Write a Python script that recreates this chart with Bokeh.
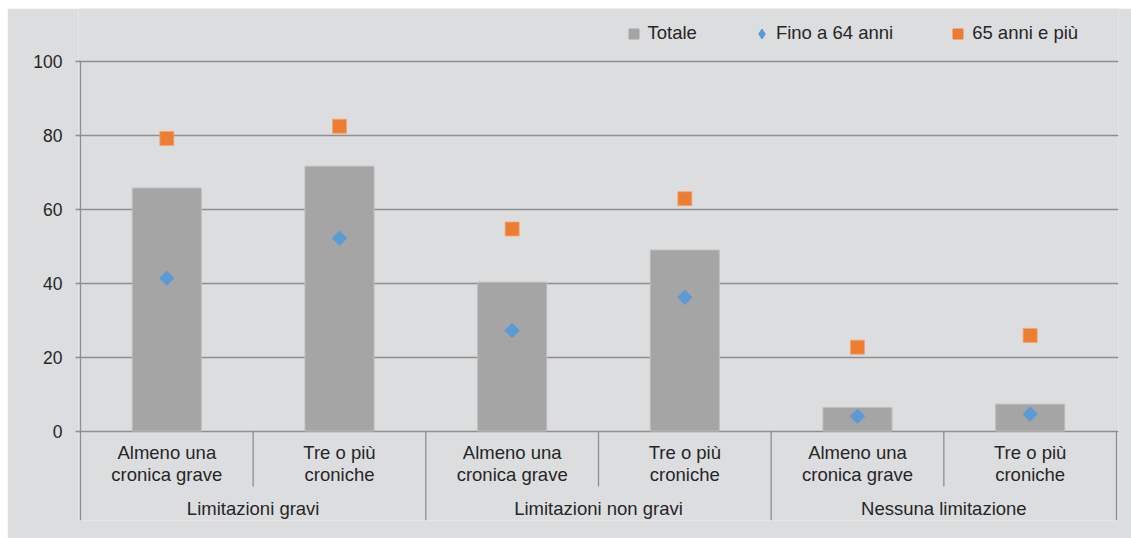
import numpy as np
from bokeh.plotting import figure
from bokeh.models import (FactorRange, Range1d, ColumnDataSource, FixedTicker,
                          Legend, LegendItem, Spacer)
from bokeh.layouts import row, column
from bokeh.core.properties import value
from bokeh.embed import file_html
from bokeh.resources import INLINE

# ---------------- data ----------------
groups = ["Limitazioni gravi", "Limitazioni non gravi", "Nessuna limitazione"]
subcats = ["Almeno una\ncronica grave", "Tre o più\ncroniche"]
totale = [65.8, 71.7, 40.3, 49.0, 6.4, 7.3]
fino_64 = [41.4, 52.2, 27.2, 36.2, 4.0, 4.6]
over_65 = [79.2, 82.5, 54.7, 62.9, 22.7, 25.9]
y_ticks = [0, 20, 40, 60, 80, 100]
series_names = ["Totale", "Fino a 64 anni", "65 anni e più"]

# ---------------- style ----------------
BG = "#DCDDDF"
BAR = "#A5A5A5"
BLUE = "#5B9BD5"
ORANGE = "#ED7D31"
GRID = "#8F8F8F"
TXT = "#262626"
FONT = "Liberation Sans"
FS = "18.5px"
FS_TICK = "17.5px"

OFF_X, OFF_Y = 7, 8            # white strip left / top as in the original
W, H = 1131 - OFF_X, 538 - OFF_Y
FRAME_LEFT, FRAME_W = 78, 1040  # page pixels
FRAME_TOP, FRAME_BOTTOM = 8, 520
ZERO_PX, PX = 430.6, 3.6948     # page row of y=0, pixels per unit
PAD = 2 / 172.67                # x padding (category units) each side

def ypx(page_y):
    # convert a page pixel row to data units of the y range
    return (ZERO_PX - page_y) / PX

Y_START, Y_END = ypx(FRAME_BOTTOM), ypx(FRAME_TOP)

factors = [(g, s) for g in groups for s in subcats]

p = figure(width=W, height=H, output_backend="svg", toolbar_location=None,
           x_range=FactorRange(*factors, range_padding=PAD,
                               range_padding_units="absolute", group_padding=0,
                               factor_padding=0, subgroup_padding=0),
           y_range=Range1d(Y_START, Y_END),
           x_axis_location=None,
           min_border_left=FRAME_LEFT - OFF_X,
           min_border_right=W - (FRAME_LEFT - OFF_X) - FRAME_W,
           min_border_top=FRAME_TOP - OFF_Y,
           min_border_bottom=H - (FRAME_BOTTOM - OFF_Y))
p.background_fill_color = BG
p.border_fill_color = BG
p.outline_line_color = None
p.xgrid.visible = False

# y axis (line drawn separately so that it stops at 100)
p.yaxis.ticker = FixedTicker(ticks=y_ticks)
p.yaxis.axis_line_color = None
p.yaxis.major_tick_line_color = GRID
p.yaxis.major_tick_line_width = 1.3
p.yaxis.major_tick_out = 3
p.yaxis.major_tick_in = 2
p.yaxis.minor_tick_line_color = None
p.yaxis.major_label_standoff = 13
p.yaxis.major_label_text_font = FONT
p.yaxis.major_label_text_font_size = FS_TICK
p.yaxis.major_label_text_color = TXT
p.ygrid.ticker = FixedTicker(ticks=y_ticks)
p.ygrid.grid_line_color = GRID
p.ygrid.grid_line_width = 1.3

src = ColumnDataSource(dict(x=factors, tot=totale, f64=fino_64, o65=over_65))

bars = p.vbar(x="x", top="tot", width=0.4, source=src, fill_color=BAR,
              line_color="#BDBDBD", line_width=1)
sq = p.scatter(x="x", y="o65", source=src, marker="square", size=14,
               fill_color=ORANGE, line_color="#F2A375", line_width=0.8)
dm = p.scatter(x="x", y="f64", source=src, marker="square", angle=np.pi / 4,
               size=10.5, fill_color=BLUE, line_color=BLUE, line_width=0.5)
# legend proxies (drawn outside the visible range)
tot_proxy = p.scatter(x=[factors[0]], y=[-1000], marker="square",
                      fill_color=BAR, line_color=BAR)
dm_proxy = p.scatter(x=[factors[0]], y=[-1000], marker="diamond",
                     fill_color=BLUE, line_color=BLUE)
sq_proxy = p.scatter(x=[factors[0]], y=[-1000], marker="square",
                     fill_color=ORANGE, line_color=ORANGE)

# category labels below the baseline
lab_src = ColumnDataSource(dict(x=factors, t=[s for g in groups for s in subcats]))
p.text(x="x", y=ypx(463), text="t", source=lab_src, text_align="center",
       text_baseline="middle", text_font=value(FONT), text_font_size=FS,
       text_color=TXT, text_line_height=1.08)
grp_src = ColumnDataSource(dict(x=groups, t=groups))
p.text(x="x", y=ypx(508), text="t", source=grp_src, text_align="center",
       text_baseline="middle", text_font=value(FONT), text_font_size=FS,
       text_color=TXT)

# y axis line + separators of the category axis
left_x = [(groups[0], subcats[0], -0.5)]
sub_x = [(g, subcats[0], 0.5) for g in groups]
grp_x = [(g, subcats[-1], 0.5) for g in groups]
p.segment(x0=left_x, x1=left_x, y0=[y_ticks[-1]], y1=[Y_START],
          line_color=GRID, line_width=1.3)
p.segment(x0=sub_x, x1=sub_x, y0=[0] * len(sub_x), y1=[ypx(486)] * len(sub_x),
          line_color=GRID, line_width=1.3)
p.segment(x0=grp_x, x1=grp_x, y0=[0] * len(grp_x), y1=[Y_START] * len(grp_x),
          line_color=GRID, line_width=1.3)

legend = Legend(items=[LegendItem(label=series_names[0], renderers=[tot_proxy]),
                       LegendItem(label=series_names[1], renderers=[dm_proxy]),
                       LegendItem(label=series_names[2], renderers=[sq_proxy])],
                orientation="horizontal",
                location=(620.5 - FRAME_LEFT, FRAME_BOTTOM - 45.5),
                glyph_width=25, glyph_height=25, label_standoff=2, spacing=52,
                padding=0, margin=0, border_line_color=None,
                background_fill_alpha=0,
                label_text_font=FONT, label_text_font_size=FS,
                label_text_color=TXT)
p.add_layout(legend, "center")

layout = column(Spacer(height=OFF_Y), row(Spacer(width=OFF_X), p))
open("out.html", "w").write(file_html(layout, INLINE))
